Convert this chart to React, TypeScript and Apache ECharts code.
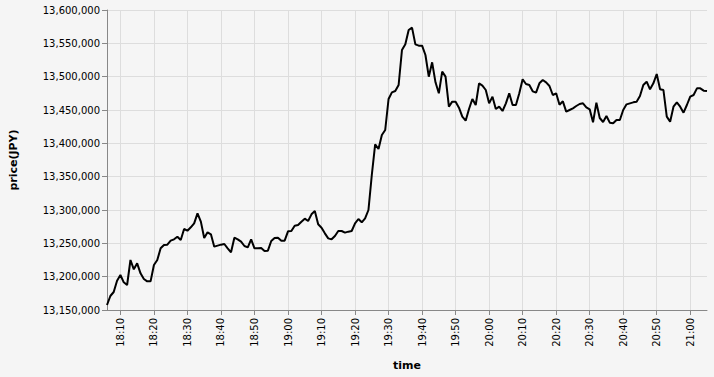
import { useEffect, useRef } from "react";
import * as echarts from "echarts";

const START_TIME = "18:06";
const prices = [
  13157500, 13171000, 13177000, 13194000, 13202500, 13191500, 13187500, 13225000, 13211000, 13220000,
  13205000, 13196500, 13193000, 13193000, 13217500, 13225000, 13242500, 13247500, 13248000, 13254000,
  13256000, 13260000, 13255000, 13271500, 13269000, 13274000, 13280000, 13295000, 13282500, 13258000,
  13266500, 13263500, 13245000, 13246500, 13248000, 13249000, 13242500, 13236500, 13258500, 13256000,
  13252500, 13246000, 13244000, 13256000, 13242500, 13242500, 13243000, 13238500, 13239000, 13253500,
  13258000, 13258500, 13254000, 13254000, 13268000, 13268500, 13276500, 13277500, 13282500, 13287000,
  13283500, 13293500, 13298500, 13278500, 13273500, 13265000, 13257500, 13256000, 13261000, 13268500,
  13268500, 13266000, 13267500, 13268500, 13280000, 13286500, 13281500, 13287500, 13300000, 13352500,
  13398500, 13391500, 13412500, 13420000, 13466500, 13476500, 13478500, 13487500, 13540000, 13548500,
  13570000, 13573500, 13548500, 13546500, 13546500, 13532500, 13500000, 13521500, 13491500, 13475000,
  13507500, 13500000, 13455000, 13462500, 13462500, 13453500, 13440000, 13434000, 13451500, 13466500,
  13457500, 13490000, 13486500, 13480000, 13460000, 13470000, 13451500, 13455000, 13448500, 13460000,
  13475000, 13457500, 13457500, 13475000, 13496000, 13489000, 13487500, 13478000, 13476000, 13490000,
  13495000, 13491500, 13486000, 13472500, 13475000, 13458000, 13463000, 13447500, 13450000, 13452500,
  13456000, 13459000, 13460000, 13454000, 13451000, 13431500, 13461000, 13438000, 13432000, 13441000,
  13431000, 13430000, 13435000, 13435000, 13450000, 13458500, 13460000, 13461500, 13462500, 13471000,
  13487500, 13492500, 13481000, 13490000, 13504000, 13481000, 13480000, 13440000, 13432500, 13455000,
  13461500, 13455000, 13446000, 13457500, 13470000, 13472500, 13482500, 13482500, 13479000, 13478500,
];
const xTickLabels = [
  "18:10", "18:20", "18:30", "18:40", "18:50", "19:00", "19:10", "19:20", "19:30",
  "19:40", "19:50", "20:00", "20:10", "20:20", "20:30", "20:40", "20:50", "21:00",
];
const Y_MIN = 13150000;
const Y_MAX = 13600000;
const Y_STEP = 50000;

const toMinutes = (s: string) => {
  const [h, m] = s.split(":").map(Number);
  return h * 60 + m;
};
const fmtTime = (v: number) => {
  const h = Math.floor(v / 60);
  const m = Math.round(v - h * 60);
  return `${h}:${m < 10 ? "0" + m : m}`;
};

const FONT = "DejaVu Sans";

export default function App() {
  const ref = useRef<HTMLDivElement>(null);
  useEffect(() => {
    if (!ref.current) return;
    const chart = echarts.init(ref.current, undefined, { renderer: "svg" });
    const start = toMinutes(START_TIME);
    const data = prices.map((p, i) => [start + i, p]);
    const tickVals = xTickLabels.map(toMinutes);
    chart.setOption({
      animation: false,
      backgroundColor: "#f5f5f5",
      grid: { left: 107, top: 10, width: 600, height: 300, containLabel: false },
      xAxis: {
        type: "value",
        min: start,
        max: start + prices.length - 1,
        name: "time",
        nameLocation: "middle",
        nameGap: 50,
        nameTextStyle: { fontFamily: FONT, fontSize: 11, fontWeight: "bold", color: "#000" },
        axisLine: { onZero: false, lineStyle: { color: "#888", width: 1 } },
        axisTick: { show: true, length: 5, customValues: tickVals, lineStyle: { color: "#888" } },
        axisLabel: {
          customValues: tickVals,
          rotate: 90,
          margin: 8,
          fontFamily: FONT,
          fontSize: 10,
          color: "#000",
          formatter: (v: number) => fmtTime(v),
        },
        splitLine: { show: true, lineStyle: { color: "#ddd", width: 1 } },
      },
      yAxis: {
        type: "value",
        min: Y_MIN,
        max: Y_MAX,
        interval: Y_STEP,
        name: "price(JPY)",
        nameLocation: "middle",
        nameGap: 88,
        nameRotate: 90,
        nameTextStyle: { fontFamily: FONT, fontSize: 11, fontWeight: "bold", color: "#000" },
        axisLine: { show: true, lineStyle: { color: "#888", width: 1 } },
        axisTick: { show: true, length: 5, lineStyle: { color: "#888" } },
        axisLabel: {
          margin: 7,
          fontFamily: FONT,
          fontSize: 10,
          color: "#000",
          formatter: (v: number) => v.toLocaleString("en-US"),
        },
        splitLine: { show: true, lineStyle: { color: "#ddd", width: 1 } },
      },
      series: [
        {
          type: "line",
          data,
          showSymbol: false,
          symbol: "none",
          lineStyle: { color: "#000", width: 2 },
        },
      ],
    });
    return () => chart.dispose();
  }, []);
  return (
    <div style={{ position: "fixed", left: 0, top: 0, width: 714, height: 377, background: "#f5f5f5" }}>
      <div ref={ref} style={{ width: 714, height: 377 }} />
    </div>
  );
}
